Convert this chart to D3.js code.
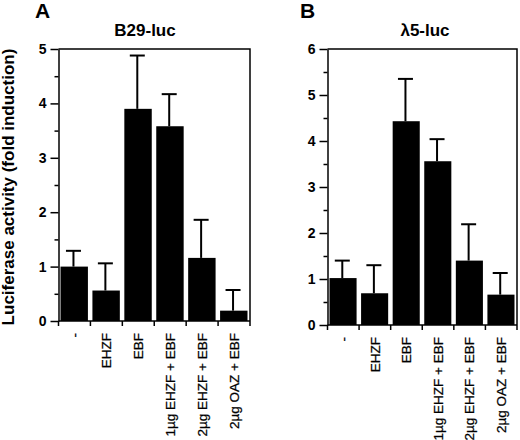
<!DOCTYPE html>
<html lang="en">
<head>
<meta charset="UTF-8">
<title>Luciferase activity</title>
<script src="https://d3js.org/d3.v7.min.js"></script>
<style>
    body { margin: 0; background: #fff; }
    svg { font-family: 'Liberation Sans', Arial, sans-serif; }
</style>
</head>
<body>
<div id="chart"></div>
<script>
// conditions on the x axis (same for both panels)
var categories = ['-', 'EHZF', 'EBF', '1µg EHZF + EBF', '2µg EHZF + EBF', '2µg OAZ + EBF'];

// panel A: B29-luc
var b29Values = [1.0, 0.56, 3.90, 3.58, 1.16, 0.19];
var b29Errors = [0.29, 0.50, 0.98, 0.59, 0.70, 0.38];
var b29Ticks = [0, 1, 2, 3, 4, 5];

// panel B: lambda5-luc
var l5Values = [1.02, 0.69, 4.43, 3.56, 1.40, 0.66];
var l5Errors = [0.38, 0.61, 0.92, 0.48, 0.79, 0.47];
var l5Ticks = [0, 1, 2, 3, 4, 5, 6];

var width = 520, height = 440;

var svg = d3.select('#chart').append('svg')
    .attr('width', width)
    .attr('height', height);

// y axis title shared by both panels
svg.append('text')
    .attr('transform', 'translate(14,187) rotate(-90)')
    .attr('text-anchor', 'middle')
    .style('font-size', '17px')
    .style('font-weight', 'bold')
    .text('Luciferase activity (fold induction)');

function drawPanel(opt) {
    var g = svg.append('g');

    var x = d3.scaleBand()
        .domain(categories)
        .range([opt.left, opt.right]);

    var y = d3.scaleLinear()
        .domain([0, d3.max(opt.ticks)])
        .range([opt.bottom, opt.top]);

    // panel letter and title
    g.append('text')
        .attr('x', opt.letterX)
        .attr('y', 18)
        .style('font-size', '21px')
        .style('font-weight', 'bold')
        .text(opt.letter);

    g.append('text')
        .attr('x', opt.titleX)
        .attr('y', 36)
        .attr('text-anchor', 'middle')
        .style('font-size', '17px')
        .style('font-weight', 'bold')
        .text(opt.title);

    // bars
    g.selectAll('.bar')
        .data(opt.values)
        .enter().append('rect')
        .attr('class', 'bar')
        .attr('x', (d, i) => x(categories[i]) + 2)
        .attr('width', x.bandwidth() - 4.5)
        .attr('y', d => y(d))
        .attr('height', d => y(0) - y(d))
        .attr('fill', '#000');

    // error bars (upper only)
    var err = g.selectAll('.err')
        .data(opt.values)
        .enter().append('g')
        .attr('class', 'err')
        .attr('stroke', '#000')
        .attr('stroke-width', 2);

    err.append('line')
        .attr('x1', (d, i) => x(categories[i]) + x.bandwidth() / 2 - 1)
        .attr('x2', (d, i) => x(categories[i]) + x.bandwidth() / 2 - 1)
        .attr('y1', d => y(d))
        .attr('y2', (d, i) => y(d + opt.errors[i]));

    err.append('line')
        .attr('x1', (d, i) => x(categories[i]) + x.bandwidth() / 2 - 8.5)
        .attr('x2', (d, i) => x(categories[i]) + x.bandwidth() / 2 + 6.5)
        .attr('y1', (d, i) => y(d + opt.errors[i]))
        .attr('y2', (d, i) => y(d + opt.errors[i]));

    // frame (top and right)
    g.append('path')
        .attr('d', 'M' + opt.left + ',' + opt.top + 'H' + opt.right + 'V' + opt.bottom)
        .attr('fill', 'none')
        .attr('stroke', '#000')
        .attr('stroke-width', 1.5);

    // y axis with major and half-step minor ticks
    var minor = d3.range(0.5, d3.max(opt.ticks), 1);
    g.append('g')
        .attr('transform', 'translate(' + opt.left + ',0)')
        .call(d3.axisLeft(y).tickValues(minor).tickSize(4).tickFormat(''))
        .call(a => a.select('.domain').remove())
        .selectAll('line').attr('stroke-width', 1.5);

    var yAxis = g.append('g')
        .attr('transform', 'translate(' + opt.left + ',0)')
        .call(d3.axisLeft(y).tickValues(opt.ticks).tickFormat(d3.format('d'))
            .tickSize(8).tickPadding(4).tickSizeOuter(0));
    yAxis.select('.domain').attr('stroke-width', 1.5);
    yAxis.selectAll('line').attr('stroke-width', 1.5);
    yAxis.selectAll('text')
        .style('font-size', '14px')
        .style('font-weight', 'bold')
        .style('font-family', "'Liberation Sans', Arial, sans-serif");

    // x axis: ticks at band edges, labels rotated
    var edges = d3.range(categories.length + 1).map(i => opt.left + i * x.step());
    g.append('line')
        .attr('x1', opt.left).attr('x2', opt.right)
        .attr('y1', opt.bottom).attr('y2', opt.bottom)
        .attr('stroke', '#000').attr('stroke-width', 1.5);
    g.selectAll('.xtick')
        .data(edges)
        .enter().append('line')
        .attr('class', 'xtick')
        .attr('x1', d => d).attr('x2', d => d)
        .attr('y1', opt.bottom).attr('y2', opt.bottom + 5)
        .attr('stroke', '#000').attr('stroke-width', 1.5);

    var xAxis = g.append('g')
        .attr('transform', 'translate(0,' + opt.bottom + ')')
        .call(d3.axisBottom(x).tickSize(0).tickPadding(0));
    xAxis.select('.domain').remove();
    xAxis.selectAll('text')
        .attr('transform', 'rotate(-90)')
        .attr('x', -12)
        .attr('y', 0)
        .attr('dy', '0.35em')
        .attr('fill', '#000')
        .attr('stroke', '#000')
        .attr('stroke-width', 0.25)
        .style('text-anchor', 'end')
        .style('font-size', '13.5px')
        .style('font-family', "'Liberation Sans', Arial, sans-serif");
}

drawPanel({
    letter: 'A', letterX: 35, title: 'B29-luc', titleX: 145,
    left: 58.5, right: 250, top: 49, bottom: 321,
    values: b29Values, errors: b29Errors, ticks: b29Ticks
});

drawPanel({
    letter: 'B', letterX: 300, title: 'λ5-luc', titleX: 425,
    left: 327.5, right: 517, top: 49, bottom: 325,
    values: l5Values, errors: l5Errors, ticks: l5Ticks
});
</script>
</body>
</html>
